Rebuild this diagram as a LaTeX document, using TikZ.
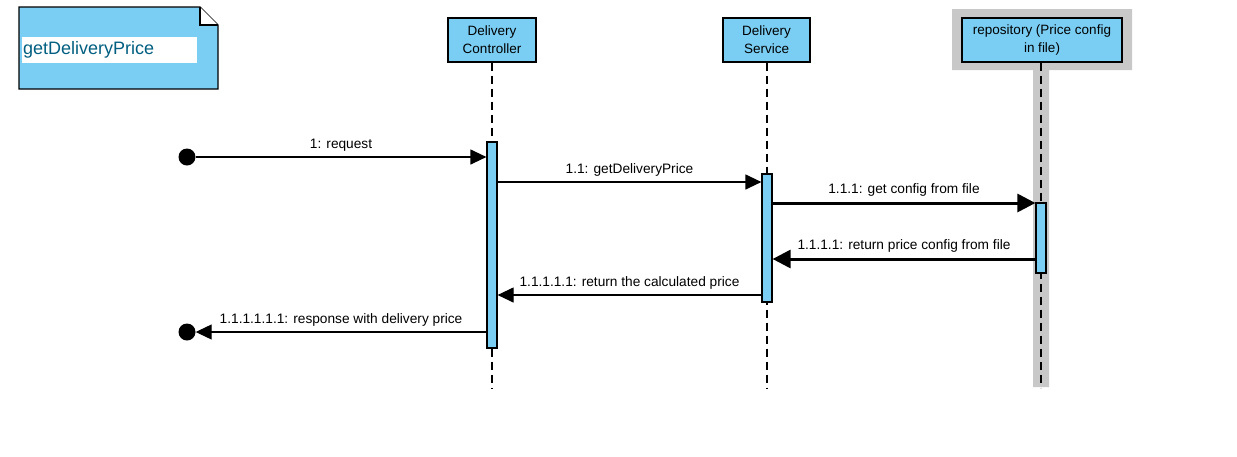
\documentclass[tikz,border=0pt]{standalone}
\usepackage{fontspec}
\setmainfont{Liberation Sans}
\usetikzlibrary{arrows.meta,positioning}
\definecolor{lifeblue}{HTML}{7ACEF4}
\definecolor{notetext}{HTML}{005F80}
\definecolor{repogray}{HTML}{C8C8C8}
\tikzset{>={Triangle[length=16pt,width=15pt]},
         head/.style={draw, line width=1.3pt, fill=lifeblue, align=center,
           minimum height=44pt, inner sep=0pt, font=\fontsize{13.5}{18}\selectfont},
         bar/.style={draw, line width=1.2pt, fill=lifeblue, minimum width=10pt,
           inner sep=0pt},
         life/.style={line width=1.2pt, dash pattern=on 8pt off 5pt},
         msg/.style={->, line width=1.2pt},
         boldmsg/.style={-{Triangle[length=18pt,width=18pt]}, line width=3pt},
         txt/.style={above=2pt, midway, font=\fontsize{13.7}{16}\selectfont},
         endpt/.style={circle, fill, minimum size=17pt, inner sep=0pt}}
\begin{document}
\begin{tikzpicture}[x=1pt, y=-1pt]
  \useasboundingbox (0,0) rectangle (1237,456);
  % note
  \draw[line width=1.3pt, fill=lifeblue] (19,7) -- (200,7) -- (218,25)
    -- (218,89) -- (19,89) -- cycle;
  \draw[line width=1.3pt, fill=white] (200,7) -- (200,25) -- (218,25);
  \node[fill=white, text width=173pt, minimum height=26pt, inner sep=1pt,
    align=left, anchor=west, text=notetext, font=\fontsize{18}{20}\selectfont]
    (title) at (22,50) {getDeliveryPrice};
  % lifelines
  \fill[repogray] (952,9) rectangle (1132,70) (1033,70) rectangle (1049,387);
  \node[head, minimum width=88pt] (ctrl) at (492,40) {Delivery\\Controller};
  \node[head, minimum width=87pt] (serv) at (766.5,40) {Delivery\\Service};
  \node[head, minimum width=160pt] (repo) at (1042,40)
    {repository (Price config\\in file)};
  \draw[life] (ctrl.south) -- ++(0,326);
  \draw[life] (serv.south) ++(0.5,0) -- ++(0,326);
  \draw[life] (repo.south) ++(-1,0) -- ++(0,325);
  \node[bar, minimum height=206pt] (cbar) at (492,245) {};
  \node[bar, minimum height=128pt] (sbar) at (767,238) {};
  \node[bar, minimum height=70pt] (rbar) at (1041,238) {};
  % messages
  \node[endpt] (start) at (187,157) {};
  \node[endpt] (finish) at (187,332) {};
  \coordinate (m2) at (0,182);
  \coordinate (m3) at (0,203);
  \coordinate (m4) at (0,259);
  \coordinate (m5) at (0,295);
  \draw[msg] (start) -- (start -| cbar.west) node[txt] {1: request};
  \draw[msg] (cbar.east |- m2) -- (sbar.west |- m2)
    node[txt] {1.1: getDeliveryPrice};
  \draw[boldmsg] (sbar.east |- m3) -- (rbar.west |- m3)
    node[txt] {1.1.1: get config from file};
  \draw[boldmsg] (rbar.west |- m4) -- (sbar.east |- m4)
    node[txt] {1.1.1.1: return price config from file};
  \draw[msg] (sbar.west |- m5) -- (cbar.east |- m5)
    node[txt] {1.1.1.1.1: return the calculated price};
  \draw[msg] (cbar.west |- finish) -- (finish)
    node[txt] {1.1.1.1.1.1: response with delivery price};
\end{tikzpicture}
\end{document}
